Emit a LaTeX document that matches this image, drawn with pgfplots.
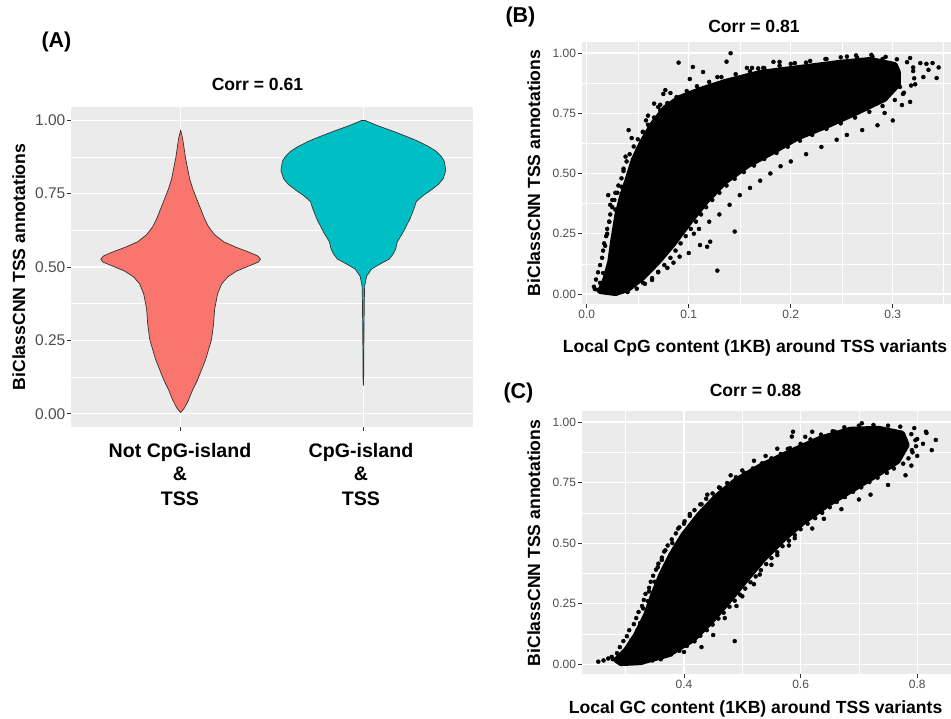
\documentclass[border=0pt]{standalone}
\usepackage{pgfplots}
\pgfplotsset{compat=1.18}
\usepackage{fontspec}
\setmainfont{Liberation Sans}

\definecolor{ggbg}{HTML}{EBEBEB}
\definecolor{ggred}{HTML}{F8766D}
\definecolor{ggteal}{HTML}{00BFC4}
\definecolor{ggline}{HTML}{333333}
\definecolor{ggtext}{HTML}{4D4D4D}

\newcommand{\ttl}{\fontsize{17.6}{20}\selectfont\bfseries}
\newcommand{\tag}{\fontsize{21.5}{24}\selectfont\bfseries}

\pgfplotsset{
  ggpanel/.style={
    scale only axis,
    anchor=south west,
    axis background/.style={fill=ggbg},
    axis x line*=bottom, axis y line*=left,
    axis line style={draw=none},
    tick align=outside,
    major tick length=4pt, minor tick length=0pt,
    tick style={color=ggline, line width=0.8pt},
    grid=both,
    major grid style={white, line width=1.1pt},
    minor grid style={white, line width=0.55pt},
    ticklabel style={text=ggtext, inner sep=1.5pt},
    /pgf/number format/assume math mode=true,
    clip=true,
  },
  ggscatter/.style={
    ggpanel,
    ymin=-0.0415, ymax=1.0456,
    ytick={0,0.25,0.5,0.75,1},
    yticklabels={0.00,0.25,0.50,0.75,1.00},
    minor ytick={0.125,0.375,0.625,0.875},
    ticklabel style={font=\fontsize{12}{13}\selectfont},
  },
  core/.style={fill=black, draw=black, line width=6pt, line join=round},
  dots/.style={only marks, mark=*, mark size=2pt, black},
}

\begin{document}
\begin{tikzpicture}[x=1pt,y=1pt]
\path[use as bounding box] (0,0) rectangle (951,719);

% ---------------- (A) violins ----------------
\begin{axis}[ggpanel,
  at={(71pt,292pt)}, width=402pt, height=320pt,
  xmin=0.4, xmax=2.6, ymin=-0.045, ymax=1.045,
  xtick={1,2}, xticklabels={},
  ytick={0,0.25,0.5,0.75,1},
  yticklabels={0.00,0.25,0.50,0.75,1.00},
  minor ytick={0.125,0.375,0.625,0.875},
  minor xtick={},
  ticklabel style={font=\fontsize{15.5}{17}\selectfont},
]
% Not CpG-island & TSS
\addplot[fill=ggred, draw=ggline, line width=0.7pt, line join=round] coordinates {
(1.000,0.004) (1.003,0.006) (1.022,0.021) (1.044,0.048) (1.066,0.082) (1.093,0.116)
(1.115,0.151) (1.137,0.185) (1.153,0.219) (1.169,0.253) (1.180,0.305) (1.186,0.356)
(1.202,0.408) (1.224,0.442) (1.257,0.466) (1.306,0.486) (1.372,0.503) (1.426,0.517)
(1.437,0.527) (1.421,0.538) (1.372,0.551) (1.300,0.568) (1.235,0.586) (1.186,0.610)
(1.153,0.637) (1.131,0.664) (1.109,0.699) (1.087,0.733) (1.066,0.767) (1.049,0.801)
(1.038,0.836) (1.027,0.870) (1.019,0.904) (1.011,0.938) (1.000,0.966)
(0.989,0.938) (0.981,0.904) (0.973,0.870) (0.962,0.836) (0.951,0.801) (0.934,0.767)
(0.913,0.733) (0.891,0.699) (0.869,0.664) (0.847,0.637) (0.814,0.610) (0.765,0.586)
(0.700,0.568) (0.628,0.551) (0.579,0.538) (0.563,0.527) (0.574,0.517) (0.628,0.503)
(0.694,0.486) (0.743,0.466) (0.776,0.442) (0.798,0.408) (0.814,0.356) (0.820,0.305)
(0.831,0.253) (0.847,0.219) (0.863,0.185) (0.885,0.151) (0.907,0.116) (0.934,0.082)
(0.956,0.048) (0.978,0.021) (0.997,0.006)
} -- cycle;
% CpG-island & TSS
\addplot[fill=ggteal, draw=ggline, line width=0.7pt, line join=round] coordinates {
(2.000,0.096) (2.0015,0.120) (2.003,0.250) (2.005,0.380) (2.007,0.435) (2.018,0.469)
(2.045,0.493) (2.091,0.510) (2.142,0.527) (2.164,0.545) (2.177,0.562) (2.186,0.586)
(2.219,0.620) (2.255,0.664) (2.277,0.699) (2.290,0.723) (2.328,0.744) (2.366,0.760)
(2.410,0.781) (2.437,0.801) (2.451,0.829) (2.443,0.860) (2.426,0.877) (2.399,0.894)
(2.355,0.911) (2.301,0.928) (2.235,0.945) (2.164,0.962) (2.071,0.983) (2.033,0.993)
(2.011,0.999) (1.989,0.999) (1.967,0.993) (1.929,0.983) (1.836,0.962) (1.765,0.945)
(1.699,0.928) (1.645,0.911) (1.601,0.894) (1.574,0.877) (1.557,0.860) (1.549,0.829)
(1.563,0.801) (1.590,0.781) (1.634,0.760) (1.672,0.744) (1.710,0.723) (1.723,0.699)
(1.745,0.664) (1.781,0.620) (1.814,0.586) (1.823,0.562) (1.836,0.545) (1.858,0.527)
(1.909,0.510) (1.955,0.493) (1.982,0.469) (1.993,0.435) (1.995,0.380) (1.997,0.250)
(1.9985,0.120)
} -- cycle;
\end{axis}

% ---------------- (B) CpG content ----------------
\begin{axis}[ggscatter,
  at={(581.7pt,415pt)}, width=374.3pt, height=262pt,
  xmin=-0.005, xmax=0.362,
  xtick={0,0.1,0.2,0.3}, xticklabels={0.0,0.1,0.2,0.3},
  minor xtick={0.05,0.15,0.25,0.35},
]
% densest part of the cloud
\addplot[core] coordinates {
(0.013,0.012) (0.018,0.058) (0.023,0.133) (0.026,0.224) (0.030,0.328) (0.035,0.411)
(0.040,0.473) (0.046,0.556) (0.054,0.627) (0.064,0.701) (0.077,0.772) (0.091,0.813)
(0.111,0.846) (0.136,0.880) (0.170,0.917) (0.209,0.938) (0.248,0.959) (0.278,0.971)
(0.302,0.950) (0.305,0.920) (0.305,0.870) (0.292,0.810) (0.265,0.755) (0.236,0.700)
(0.207,0.650) (0.182,0.590) (0.158,0.535) (0.135,0.465) (0.116,0.380) (0.100,0.295)
(0.085,0.210) (0.070,0.135) (0.055,0.070) (0.040,0.020) (0.028,0.004)
} -- cycle;
% points along the edge of the cloud
\addplot[dots] coordinates {
(0.007,0.030) (0.009,0.060) (0.011,0.090) (0.013,0.120) (0.015,0.150) (0.016,0.180)
(0.017,0.210) (0.019,0.240) (0.020,0.270) (0.022,0.300) (0.023,0.330) (0.025,0.360)
(0.027,0.390) (0.028,0.420) (0.031,0.450) (0.034,0.480) (0.036,0.510) (0.039,0.550)
(0.042,0.580) (0.046,0.612) (0.050,0.642) (0.055,0.672) (0.060,0.702) (0.066,0.732)
(0.072,0.762) (0.079,0.792) (0.088,0.817) (0.098,0.842) (0.108,0.862) (0.120,0.880)
(0.132,0.900) (0.146,0.912) (0.160,0.924) (0.174,0.937) (0.189,0.947) (0.204,0.958)
(0.219,0.967) (0.234,0.975) (0.249,0.982) (0.264,0.990) (0.279,0.992) (0.293,0.984)
(0.304,0.974) (0.314,0.962)
(0.320,0.925) (0.321,0.895) (0.318,0.865) (0.311,0.835) (0.302,0.805) (0.290,0.780)
(0.277,0.756) (0.263,0.732) (0.249,0.708) (0.235,0.685) (0.221,0.660) (0.209,0.636)
(0.197,0.611) (0.186,0.585) (0.174,0.560) (0.164,0.533) (0.154,0.506) (0.145,0.478)
(0.137,0.450) (0.130,0.420) (0.123,0.390) (0.117,0.360) (0.112,0.330) (0.107,0.300)
(0.102,0.270) (0.097,0.240) (0.092,0.210) (0.087,0.180) (0.082,0.150) (0.076,0.120)
(0.070,0.092) (0.064,0.066) (0.057,0.042) (0.049,0.022) (0.040,0.008) (0.029,0.002)
};
% scattered points around the cloud
\addplot[dots] coordinates {
(0.141,0.999) (0.090,0.960) (0.137,0.964) (0.183,0.963) (0.189,0.963) (0.104,0.942)
(0.114,0.921) (0.101,0.892) (0.128,0.900) (0.157,0.938) (0.162,0.938) (0.168,0.936)
(0.173,0.938) (0.077,0.846) (0.075,0.830) (0.070,0.776) (0.082,0.834) (0.072,0.785)
(0.066,0.790) (0.085,0.800) (0.060,0.740) (0.058,0.720) (0.041,0.680) (0.044,0.647)
(0.055,0.673) (0.050,0.600) (0.038,0.570) (0.036,0.520) (0.034,0.445) (0.030,0.420)
(0.021,0.410) (0.025,0.390) (0.023,0.370) (0.028,0.350) (0.022,0.300) (0.030,0.295)
(0.033,0.320) (0.020,0.250) (0.018,0.200) (0.023,0.154) (0.016,0.087) (0.013,0.046)
(0.011,0.017) (0.008,0.020) (0.029,0.010) (0.020,0.010)
(0.200,0.955) (0.215,0.960) (0.235,0.975) (0.255,0.985) (0.265,0.980) (0.280,0.985)
(0.290,0.975) (0.317,0.979) (0.327,0.958) (0.333,0.955) (0.339,0.958) (0.343,0.896)
(0.335,0.930) (0.345,0.940) (0.320,0.940) (0.317,0.797) (0.309,0.784) (0.307,0.859)
(0.292,0.751) (0.300,0.720) (0.285,0.700) (0.310,0.830) (0.322,0.870) (0.330,0.900)
(0.270,0.680) (0.255,0.660) (0.245,0.640) (0.230,0.610) (0.215,0.580) (0.200,0.550)
(0.190,0.530) (0.180,0.500) (0.170,0.470) (0.160,0.440) (0.150,0.410) (0.140,0.370)
(0.130,0.330) (0.120,0.300)
(0.128,0.097) (0.145,0.259) (0.121,0.217) (0.118,0.196) (0.111,0.203) (0.100,0.170)
(0.091,0.155) (0.079,0.108) (0.064,0.058) (0.055,0.047) (0.070,0.090) (0.085,0.130)
(0.105,0.250) (0.110,0.270)
};
\end{axis}

% ---------------- (C) GC content ----------------
\begin{axis}[ggscatter,
  at={(581.7pt,45pt)}, width=379.2pt, height=262.6pt,
  xmin=0.2245, xmax=0.875, ymin=-0.041, ymax=1.044,
  xtick={0.4,0.6,0.8}, xticklabels={0.4,0.6,0.8},
  minor xtick={0.3,0.5,0.7},
]
% densest part of the band
\addplot[core] coordinates {
(0.284,0.017) (0.301,0.058) (0.318,0.120) (0.335,0.202) (0.347,0.285) (0.361,0.368)
(0.378,0.450) (0.399,0.533) (0.426,0.616) (0.455,0.690) (0.489,0.758) (0.532,0.818)
(0.584,0.878) (0.635,0.932) (0.685,0.968) (0.734,0.972) (0.774,0.952) (0.782,0.905)
(0.766,0.838) (0.732,0.785) (0.690,0.723) (0.647,0.661) (0.605,0.588) (0.570,0.516)
(0.536,0.434) (0.507,0.351) (0.479,0.268) (0.450,0.186) (0.416,0.103) (0.373,0.040)
(0.325,0.008) (0.292,0.004)
} -- cycle;
% points along the edge of the band
\addplot[dots] coordinates {
(0.276,0.030) (0.285,0.045) (0.290,0.070) (0.296,0.095) (0.302,0.115) (0.306,0.140)
(0.314,0.165) (0.318,0.190) (0.322,0.215) (0.328,0.240) (0.331,0.265) (0.334,0.290)
(0.340,0.315) (0.343,0.340) (0.347,0.365) (0.352,0.390) (0.356,0.415) (0.362,0.440)
(0.366,0.465) (0.372,0.490) (0.379,0.515) (0.386,0.540) (0.392,0.565) (0.401,0.590)
(0.410,0.612) (0.418,0.636) (0.428,0.660) (0.438,0.683) (0.449,0.705) (0.462,0.727)
(0.474,0.748) (0.489,0.772) (0.503,0.790) (0.518,0.808) (0.534,0.830) (0.550,0.850)
(0.566,0.868) (0.582,0.892) (0.600,0.910) (0.617,0.928) (0.635,0.948) (0.655,0.962)
(0.675,0.978) (0.700,0.985) (0.725,0.988) (0.750,0.985)
(0.790,0.950) (0.797,0.925) (0.798,0.900) (0.792,0.875) (0.785,0.850) (0.776,0.828)
(0.760,0.808) (0.748,0.790) (0.732,0.770) (0.718,0.752) (0.704,0.730) (0.690,0.712)
(0.676,0.690) (0.662,0.670) (0.650,0.648) (0.637,0.625) (0.625,0.603) (0.612,0.580)
(0.600,0.557) (0.590,0.533) (0.580,0.510) (0.569,0.487) (0.560,0.462) (0.550,0.438)
(0.541,0.413) (0.532,0.388) (0.523,0.362) (0.514,0.338) (0.505,0.312) (0.496,0.287)
(0.487,0.262) (0.478,0.237) (0.468,0.212) (0.459,0.188) (0.449,0.163) (0.439,0.140)
(0.428,0.117) (0.418,0.094) (0.405,0.075) (0.392,0.055) (0.378,0.040) (0.362,0.027)
(0.346,0.015) (0.330,0.008)
};
% scattered points around the band
\addplot[dots] coordinates {
(0.253,0.010) (0.262,0.015) (0.270,0.023) (0.278,0.020) (0.287,0.030) (0.300,0.035)
(0.316,0.005) (0.305,0.075) (0.310,0.100) (0.320,0.140) (0.325,0.170) (0.330,0.230)
(0.338,0.260) (0.340,0.300) (0.350,0.340) (0.355,0.400) (0.362,0.430) (0.368,0.470)
(0.380,0.500) (0.390,0.560) (0.400,0.580) (0.410,0.620) (0.430,0.660) (0.440,0.700)
(0.460,0.730) (0.480,0.780) (0.500,0.800) (0.520,0.840) (0.540,0.860) (0.560,0.890)
(0.587,0.960) (0.585,0.940) (0.620,0.960) (0.608,0.939) (0.578,0.889) (0.659,0.960)
(0.685,0.967) (0.705,0.995) (0.771,0.981) (0.795,0.975) (0.815,0.960) (0.816,0.955)
(0.832,0.926) (0.825,0.884) (0.791,0.884) (0.800,0.930) (0.810,0.910) (0.800,0.860)
(0.487,0.095) (0.450,0.120) (0.470,0.190) (0.490,0.240) (0.500,0.280) (0.520,0.330)
(0.530,0.370) (0.550,0.410) (0.560,0.450) (0.580,0.490) (0.590,0.520) (0.620,0.560)
(0.640,0.600) (0.670,0.640) (0.700,0.680) (0.720,0.700) (0.750,0.740) (0.780,0.780)
(0.790,0.820) (0.430,0.070) (0.400,0.050) (0.360,0.020)
};
\end{axis}

% ---------------- titles and labels ----------------
\node[anchor=base west, font=\tag] at (38,671.7) {(A)};
\node[anchor=base west, font=\tag] at (502,696.3) {(B)};
\node[anchor=base west, font=\tag] at (500,320) {(C)};

\node[anchor=base, font=\ttl] at (257.5,628) {Corr = 0.61};
\node[anchor=base, font=\ttl] at (754,686.3) {Corr = 0.81};
\node[anchor=base, font=\ttl] at (755.5,322.3) {Corr = 0.88};

\node[anchor=base, rotate=90, font=\ttl] at (25,452) {BiClassCNN TSS annotations};
\node[anchor=base, rotate=90, font=\ttl] at (540,546) {BiClassCNN TSS annotations};
\node[anchor=base, rotate=90, font=\ttl] at (540,176) {BiClassCNN TSS annotations};

\node[anchor=base, font=\ttl] at (755,366.3) {Local CpG content (1KB) around TSS variants};
\node[anchor=base, font=\ttl] at (755.6,5.5) {Local GC content (1KB) around TSS variants};

% category labels of panel A
\begin{scope}[every node/.style={anchor=base, font=\fontsize{19.6}{22}\selectfont\bfseries}]
\node at (180,261.7) {Not CpG-island};
\node at (180,238) {\&};
\node at (180,213.3) {TSS};
\node at (361,261.7) {CpG-island};
\node at (361,238) {\&};
\node at (361,213.3) {TSS};
\end{scope}
\end{tikzpicture}
\end{document}
